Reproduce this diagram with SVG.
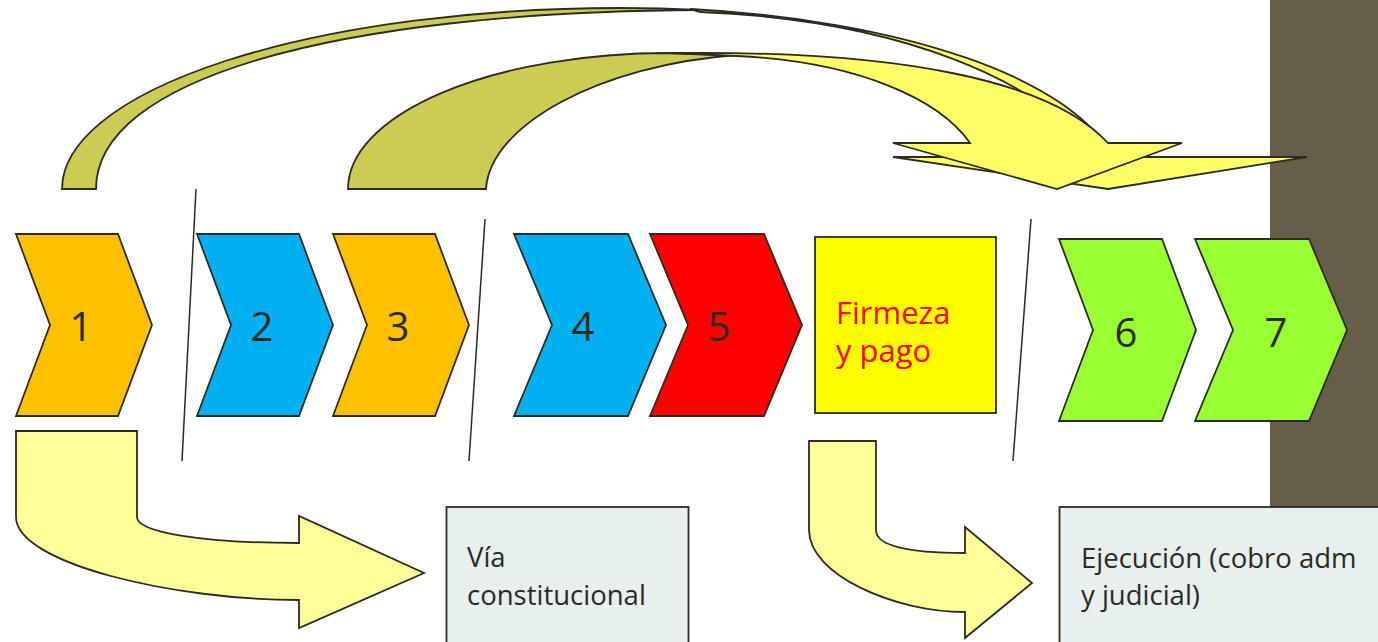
<svg xmlns="http://www.w3.org/2000/svg" width="1378" height="642" viewBox="0 0 1378 642">
<style>
.ln{stroke:#2d2a21;stroke-width:1.8;stroke-linejoin:miter}
.olive{fill:#CCCC55}
.yel{fill:#FFFF66}
.pale{fill:#FFFF99}
.orange{fill:#FFC000}
.blue{fill:#00B0F0}
.red{fill:#FF0000}
.green{fill:#99FF33}
.num{font-family:"Open Sans","Liberation Sans",sans-serif;font-size:40px;fill:#2d2a21;text-anchor:middle}
.lbl{font-family:"Open Sans","Liberation Sans",sans-serif;font-size:27.5px;fill:#2d2a21}
.fp{font-family:"Open Sans","Liberation Sans",sans-serif;font-size:31px;fill:#FF0000}
.div{stroke:#2d2a21;stroke-width:1.5;fill:none}
</style>
<rect width="1378" height="642" fill="#FFFFFF"/>
<rect id="side-band" x="1270" y="0" width="108" height="507" fill="#665E49"/>
<g id="dividers">
<line class="div" x1="196" y1="189" x2="182" y2="461"/>
<line class="div" x1="485" y1="219" x2="469" y2="461"/>
<line class="div" x1="1031" y1="219" x2="1013" y2="461"/>
</g>
<g id="connectors">
<g id="arrow-1-to-6">
<path class="ln olive" d="M62,189 A558,181 0 0 1 620,8 Q660,8 700,10 C330,12 96,80 96,189 Z"/>
<path class="ln yel" d="M690,9 A500,181 0 0 1 1112,157 L1307,157 L1108,189 L893,157 L1098,157 C1040,80 900,20 700,12 Z"/>
</g>
<g id="arrow-3-to-6">
<path class="ln olive" d="M348,189 A320,136 0 0 1 668,53 L737,55 C600,65 490,125 486,189 Z"/>
<path class="ln yel" d="M668,53 C900,50 1050,80 1108,143 L1182,143 L1057,189 L893,143 L970,143 C940,100 860,62 737,56 Z"/>
</g>
<path id="arrow-1-to-via" class="ln pale" d="M16,431 L137,431 L137,517 C137,532 200,543 299,543 L299,516 L424,573 L299,628 L299,600 C172,600 16,563 16,517 Z"/>
<path id="arrow-firmeza-to-ejecucion" class="ln pale" d="M809,441 L876,441 L876,530 C876,545 905,553 965,553 L965,527 L1032,583 L965,638 L965,612 C895,612 809,575 809,530 Z"/>
</g>
<g id="step-1"><path class="ln orange" d="M16,234 L118,234 L152,325 L118,416 L16,416 L50,325 Z"/><text class="num" x="81" y="341">1</text></g>
<g id="step-2"><path class="ln blue" d="M197,234 L299,234 L333,325 L299,416 L197,416 L231,325 Z"/><text class="num" x="262" y="341">2</text></g>
<g id="step-3"><path class="ln orange" d="M333,234 L435,234 L469,325 L435,416 L333,416 L367,325 Z"/><text class="num" x="398" y="341">3</text></g>
<g id="step-4"><path class="ln blue" d="M514,234 L628,234 L666,325 L628,416 L514,416 L552,325 Z"/><text class="num" x="583" y="341">4</text></g>
<g id="step-5"><path class="ln red" d="M650,234 L764,234 L802,325 L764,416 L650,416 L688,325 Z"/><text class="num" x="719" y="341">5</text></g>
<g id="firmeza"><rect class="ln" x="815" y="237" width="181" height="176" fill="#FFFF00"/><text class="fp" x="836" y="324">Firmeza</text><text class="fp" x="836" y="362">y pago</text></g>
<g id="step-6"><path class="ln green" d="M1059,239 L1162,239 L1196,330 L1162,421 L1059,421 L1093,330 Z"/><text class="num" x="1126" y="347">6</text></g>
<g id="step-7"><path class="ln green" d="M1195,239 L1309,239 L1347,330 L1309,421 L1195,421 L1233,330 Z"/><text class="num" x="1276" y="347">7</text></g>
<g id="via-constitucional"><rect class="ln" x="446.5" y="507" width="242" height="145" fill="#E7F0EF"/><text class="lbl" x="467" y="567">Vía</text><text class="lbl" x="467" y="605">constitucional</text></g>
<g id="ejecucion"><rect class="ln" x="1059.5" y="507" width="330" height="145" fill="#E7F0EF"/><text class="lbl" x="1081" y="568">Ejecución (cobro adm</text><text class="lbl" x="1081" y="605">y judicial)</text></g>
</svg>
